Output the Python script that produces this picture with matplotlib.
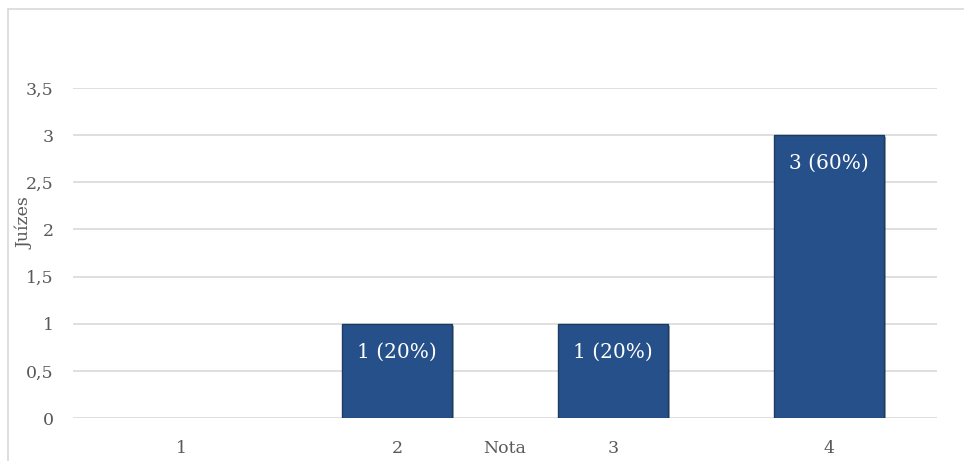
import matplotlib
matplotlib.use("Agg")
import matplotlib.pyplot as plt
import matplotlib.patheffects as pe
from matplotlib.lines import Line2D

categories = ["1", "2", "3", "4"]
values = [0, 1, 1, 3]
labels = ["", "1 (20%)", "1 (20%)", "3 (60%)"]
yticks = [0, 0.5, 1, 1.5, 2, 2.5, 3, 3.5]
ytick_labels = ["0", "0,5", "1", "1,5", "2", "2,5", "3", "3,5"]

plt.rcParams['font.family'] = ['DejaVu Serif', 'Liberation Serif']

W, H = 964, 461
fig = plt.figure(figsize=(W/100, H/100), dpi=100)
ax = fig.add_axes([73/W, (H-418)/H, (937-73)/W, (418-88)/H])

x = list(range(len(categories)))
lws = [1.0 if v > 0 else 0 for v in values]
bars = ax.bar(x, values, width=0.51, color="#26508a", edgecolor="#1c3a62", linewidth=lws, zorder=3,
              path_effects=[pe.SimplePatchShadow(offset=(1.5, -1.5), alpha=0.35), pe.Normal()])
for b, v in zip(bars, values):
    if v == 0:
        b.set_visible(False)

for xi, v, lab in zip(x, values, labels):
    if lab:
        ax.annotate(lab, (xi, v), xytext=(0, -20.5), textcoords="offset points",
                    ha="center", va="center", color="white", fontsize=14.5, zorder=5)

ax.set_xlim(-0.5, 3.5)
ax.set_ylim(0, 3.5)
ax.set_yticks(yticks)
ax.set_yticklabels(ytick_labels)
ax.set_xticks(x)
ax.set_xticklabels(categories)
ax.tick_params(axis="both", length=0, labelsize=12.5, colors="#595959")
ax.tick_params(axis="y", pad=14)
ax.tick_params(axis="x", pad=16)
ax.yaxis.grid(True, color="#d9d9d9", linewidth=1.2, zorder=0)
ax.set_axisbelow(True)
for s in ax.spines.values():
    s.set_visible(False)

fig.text(505/W, 1 - 448/H, "Nota", ha="center", va="center", fontsize=12.5, color="#595959")
fig.text(25/W, 1 - 223/H, "Juízes", ha="center", va="center", rotation=90, fontsize=12.5, color="#595959")

# outer chart border (top and left visible)
fig.add_artist(Line2D([8/W, 1], [1 - 9/H, 1 - 9/H], color="#d9d9d9", linewidth=1.2, transform=fig.transFigure))
fig.add_artist(Line2D([8/W, 8/W], [0, 1 - 9/H], color="#d9d9d9", linewidth=1.2, transform=fig.transFigure))

fig.savefig("out.png", dpi=100)
